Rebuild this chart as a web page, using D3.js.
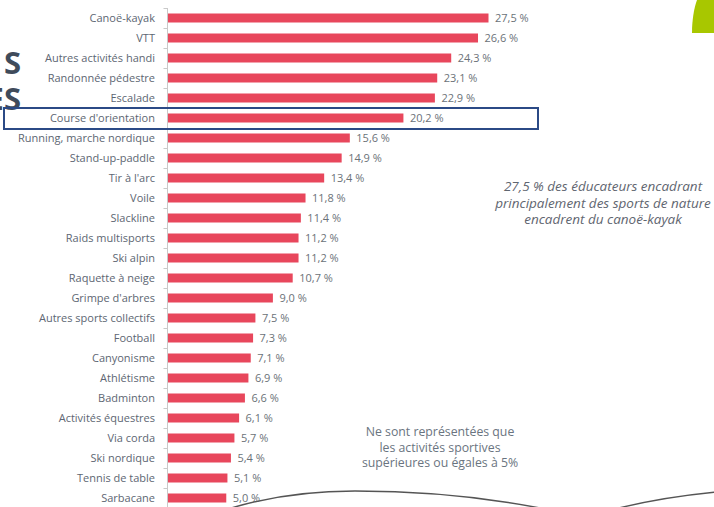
<!DOCTYPE html>
<html><head><meta charset="utf-8">
<script src="https://cdn.jsdelivr.net/npm/d3@7"></script>
<style>
html,body{margin:0;padding:0;background:#fff;overflow:hidden;}
svg{display:block;font-family:"Open Sans",sans-serif;}
</style></head>
<body>
<svg id="c" width="714" height="507"></svg>
<script>
const categories = ["Canoë-kayak","VTT","Autres activités handi","Randonnée pédestre","Escalade","Course d'orientation","Running, marche nordique","Stand-up-paddle","Tir à l'arc","Voile","Slackline","Raids multisports","Ski alpin","Raquette à neige","Grimpe d'arbres","Autres sports collectifs","Football","Canyonisme","Athlétisme","Badminton","Activités équestres","Via corda","Ski nordique","Tennis de table","Sarbacane"];
const values = [27.5,26.6,24.3,23.1,22.9,20.2,15.6,14.9,13.4,11.8,11.4,11.2,11.2,10.7,9.0,7.5,7.3,7.1,6.9,6.6,6.1,5.7,5.4,5.1,5.0];
const highlighted = "Course d'orientation";
const noteTop = ["27,5 % des éducateurs encadrant","principalement des sports de nature","encadrent du canoë-kayak"];
const noteBottom = ["Ne sont représentées que","les activités sportives","supérieures ou égales à 5%"];
const titleFragments = ["S","ES"];

const svg = d3.select("#c");
const x0 = 167.5;
const x = d3.scaleLinear().domain([0, 27.5]).range([x0, 488]);
const fmt = v => d3.format(".1f")(v).replace(".", ",") + " %";

// title fragments (cropped at the left edge)
svg.append("text").attr("x", 21).attr("y", 74).attr("text-anchor","end")
  .attr("font-size", 31).attr("font-weight", 700).attr("fill", "#3f4b5b").text(titleFragments[0]);
svg.append("text").attr("x", 21).attr("y", 110).attr("text-anchor","end")
  .attr("font-size", 31).attr("font-weight", 700).attr("fill", "#3f4b5b").text(titleFragments[1]);

// green shape top right
svg.append("path").attr("d", "M697,0 L714,0 L714,33 L692,33 C692,20 694,8 697,0 Z").attr("fill", "#a8c700");

// axis line
svg.append("line").attr("x1", x0).attr("x2", x0).attr("y1", 8).attr("y2", 507)
  .attr("stroke", "#c9c9c9").attr("stroke-width", 1);
const yc = c => 8 + categories.indexOf(c) * 20 + 10;
// boundary ticks
svg.append("g").selectAll("line").data(categories).join("line")
  .attr("x1", x0 - 4).attr("x2", x0).attr("y1", d => yc(d) - 9.5).attr("y2", d => yc(d) - 9.5)
  .attr("stroke", "#c9c9c9");

// labels
svg.append("g").selectAll("text").data(categories).join("text")
  .attr("x", 155).attr("y", d => yc(d)).attr("dy", "0.35em").attr("text-anchor", "end")
  .attr("font-size", 11).attr("fill", "#5d6672").text(d => d);

// bars
const data = categories.map((c,i) => ({c, v: values[i]}));
svg.append("g").selectAll("rect").data(data).join("rect")
  .attr("x", x0 + 0.5).attr("y", d => yc(d.c) - 4.5).attr("height", 9)
  .attr("width", d => x(d.v) - x0).attr("fill", "#e8475c");

// value labels
svg.append("g").selectAll("text").data(data).join("text")
  .attr("x", d => x(d.v) + 7).attr("y", d => yc(d.c)).attr("dy", "0.35em")
  .attr("font-size", 11).attr("fill", "#6b7278").text(d => fmt(d.v));

// highlight box
const hy = yc(highlighted);
svg.append("rect").attr("x", 4).attr("y", hy - 10).attr("width", 534).attr("height", 21)
  .attr("fill", "none").attr("stroke", "#2b4a86").attr("stroke-width", 2);

// notes
svg.append("g").selectAll("text").data(noteTop).join("text")
  .attr("x", 603).attr("y", (d,i) => 191 + i*16.5).attr("text-anchor", "middle")
  .attr("font-size", 13.5).attr("font-style", "italic").attr("fill", "#5f6670").text(d => d);
svg.append("g").selectAll("text").data(noteBottom).join("text")
  .attr("x", 440).attr("y", (d,i) => 436 + i*15.5).attr("text-anchor", "middle")
  .attr("font-size", 12.3).attr("fill", "#6a7480").text(d => d);

// bottom waves
svg.append("path").attr("d", "M228,509 C270,496 310,491 355,491 C420,491 480,496 545,509")
  .attr("fill", "none").attr("stroke", "#555").attr("stroke-width", 1.5);
svg.append("path").attr("d", "M615,509 C650,500 685,495 716,492")
  .attr("fill", "none").attr("stroke", "#555").attr("stroke-width", 1.5);
</script>
</body></html>
